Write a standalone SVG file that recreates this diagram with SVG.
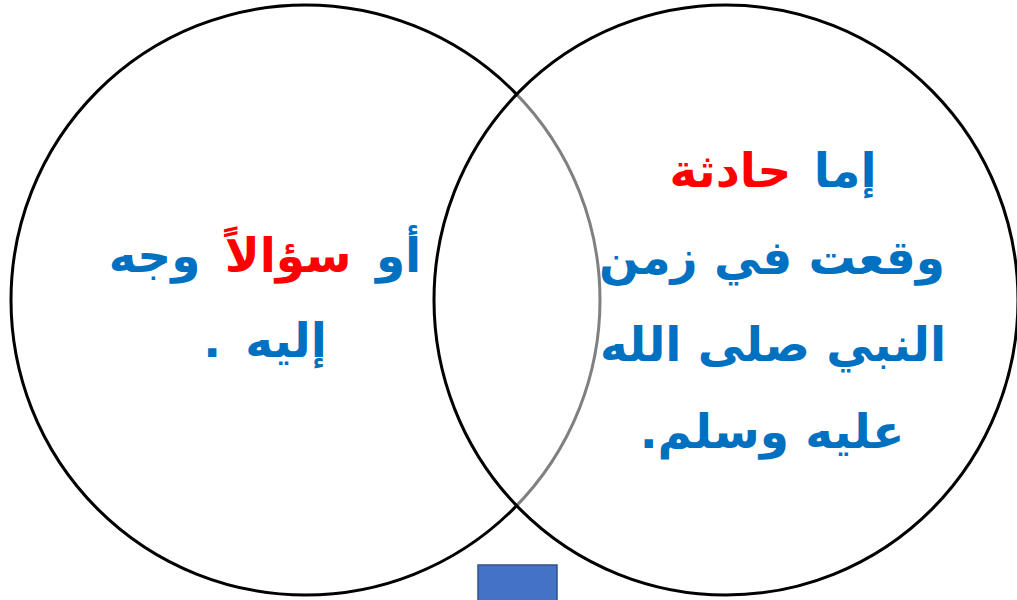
<svg xmlns="http://www.w3.org/2000/svg" width="1017" height="600" viewBox="0 0 1017 600">
<style>
.t{font-family:"DejaVu Sans",sans-serif;font-size:47px;font-weight:bold;text-anchor:middle;direction:rtl}
.b{fill:#0070C0}
.r{fill:#FF0000}
.c{stroke:#000;stroke-width:3}
</style>
<rect width="1017" height="600" fill="#fff"/>
<g id="left-circle">
<ellipse class="c" cx="305.5" cy="300" rx="294.5" ry="295" fill="none"/>
</g>
<g id="right-circle">
<ellipse class="c" cx="726" cy="300" rx="292" ry="295" fill="#fff" fill-opacity="0.5"/>
</g>
<g id="left-text">
<text class="t b" x="265" y="272" direction="rtl" word-spacing="8"><tspan class="b">أو </tspan><tspan class="r">سؤالاً</tspan><tspan class="b">  وجه</tspan></text>
<text class="t b" x="265" y="357" direction="rtl" word-spacing="8">إليه .</text>
</g>
<g id="right-text">
<text class="t b" x="773" y="187" direction="rtl" word-spacing="6"><tspan class="b">إما </tspan><tspan class="r">حادثة</tspan></text>
<text class="t b" x="772" y="274" direction="rtl">وقعت في زمن</text>
<text class="t b" x="773" y="361" direction="rtl">النبي صلى الله</text>
<text class="t b" x="772" y="448" direction="rtl">عليه وسلم.</text>
</g>
<g id="square">
<rect x="478" y="565" width="79" height="40" fill="#4472C4" stroke="#2F528F" stroke-width="1.5"/>
</g>
<g id="connectors"/>
</svg>
